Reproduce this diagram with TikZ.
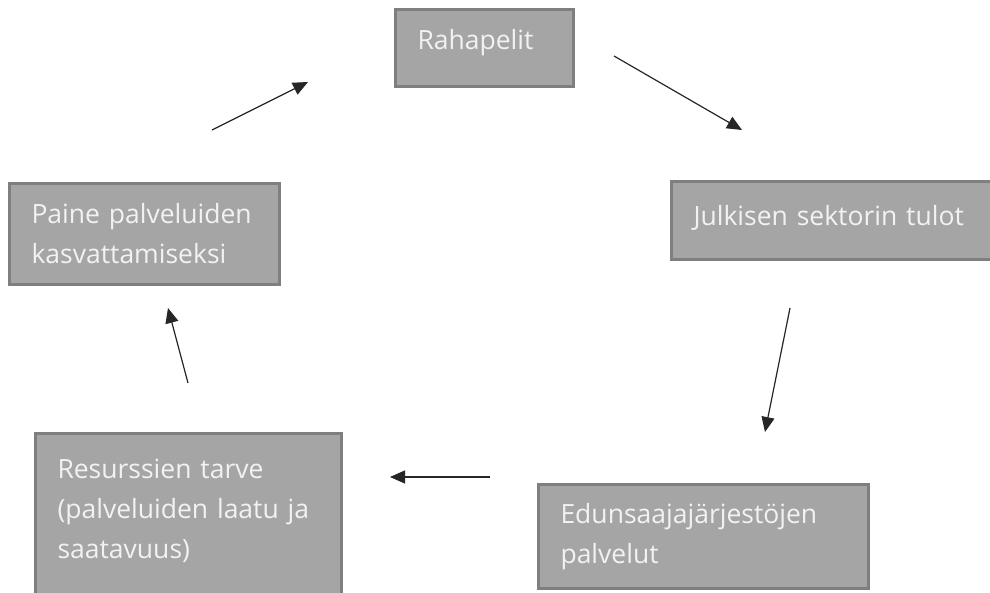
\documentclass[tikz,border=0pt]{standalone}
\usepackage{fontspec}
\setmainfont{Open Sans}
\usetikzlibrary{arrows.meta}
\definecolor{boxfill}{HTML}{A5A5A5}
\definecolor{boxline}{HTML}{7F7F7F}
\definecolor{boxtext}{HTML}{F2F2F2}

\begin{document}
\begin{tikzpicture}[x=1pt, y=-1pt,
  font=\fontsize{26.5}{40}\selectfont,
  box/.style={draw=boxline, line width=3pt, fill=boxfill, text=boxtext, align=left, inner xsep=22pt, anchor=north west},
  arr/.style={->, draw=black!85, line width=1.2pt},
  >={Triangle[length=15pt, width=13pt]}]
\useasboundingbox (0,0) rectangle (990,592);
\node[box, minimum width=178, minimum height=77, text width=134pt, text depth=18pt] (raha) at (394,8) {Rahapelit};
\node[box, minimum width=322, minimum height=78, text width=278pt, text depth=10pt] (julk) at (670,180) {Julkisen sektorin tulot};
\node[box, minimum width=330, minimum height=104, text width=286pt] (edun) at (537,483) {Edunsaajajärjestöjen\\palvelut};
\node[box, minimum width=306, minimum height=170, text width=262pt] (resu) at (34,432) {Resurssien tarve\\(palveluiden laatu ja\\saatavuus)\\[-20pt]\mbox{}};
\node[box, minimum width=270, minimum height=101, text width=226pt] (paine) at (8,182) {Paine palveluiden\\kasvattamiseksi};
% free arrow ends
\coordinate (a1s) at (212,130); \coordinate (a1e) at (308,82);
\coordinate (a2s) at (614,56);  \coordinate (a2e) at (742,130);
\coordinate (a3s) at (790,308); \coordinate (a3e) at (765,432);
\coordinate (a4s) at (490,477); \coordinate (a4e) at (390,477);
\coordinate (a5s) at (188,383); \coordinate (a5e) at (168,308);
\draw[arr] (a1s) -- (a1e);
\draw[arr] (a2s) -- (a2e);
\draw[arr] (a3s) -- (a3e);
\draw[arr] (a4s) -- (a4e);
\draw[arr] (a5s) -- (a5e);
\end{tikzpicture}
\end{document}
